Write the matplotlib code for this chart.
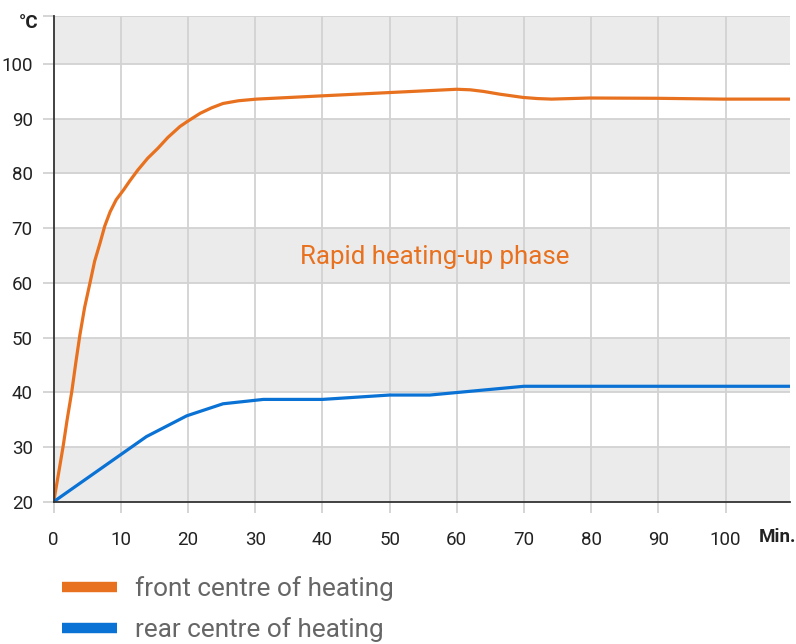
import matplotlib
matplotlib.use("Agg")
import matplotlib.pyplot as plt
from matplotlib.lines import Line2D

plt.rcParams['font.family'] = ['Roboto', 'DejaVu Sans']

# Data
front_x = [0, 0.7, 1.4, 2.0, 2.7, 3.3, 3.9, 4.6, 5.4, 6.1, 6.9, 7.6, 8.4, 9.3, 10.4, 11.3,
           12.5, 14.0, 15.5, 17.0, 18.8, 20.0, 21.8, 23.5, 25.2, 27.5, 30.2,
           40, 45, 50, 55, 60, 62, 64, 66.4, 69.9, 72, 74.1, 79.8, 89.7, 99.6, 109.6]
front_y = [20, 25.0, 30.1, 35.0, 40.2, 45.5, 50.5, 55.5, 60, 64.0, 67.3, 70.4, 73.0, 75.2, 77.0, 78.6,
           80.6, 82.8, 84.6, 86.6, 88.6, 89.6, 91.0, 92.0, 92.8, 93.3, 93.6,
           94.2, 94.5, 94.8, 95.1, 95.4, 95.3, 95.0, 94.5, 93.9, 93.7, 93.6, 93.8, 93.75, 93.6, 93.6]
rear_x = [0, 13.8, 19.8, 25.2, 31.2, 40, 50, 56, 70, 109.6]
rear_y = [20, 31.9, 35.7, 37.9, 38.7, 38.7, 39.5, 39.5, 41.1, 41.1]

x_ticks = [0, 10, 20, 30, 40, 50, 60, 70, 80, 90, 100]
y_ticks = [20, 30, 40, 50, 60, 70, 80, 90, 100]
legend_labels = ["front centre of heating", "rear centre of heating"]
annotation = "Rapid heating-up phase"

ORANGE = '#E8711F'
BLUE = '#0A72D4'
BAND = '#EBEBEB'
GRID = '#D2D2D2'
TXT = '#222222'

W, H = 796, 644
fig = plt.figure(figsize=(W / 100, H / 100), dpi=100)
x0, x1 = 53.7, 790
y0, y1 = 501.7, 15.7
ax = fig.add_axes([x0 / W, 1 - y0 / H, (x1 - x0) / W, (y0 - y1) / H])

ymax = 20 + (y0 - y1) / 5.47
xmax = 109.6
ax.set_xlim(0, xmax)
ax.set_ylim(20, ymax)

for b in [20, 40, 60, 80, 100]:
    ax.axhspan(b, min(b + 10, ymax), color=BAND, lw=0, zorder=0)

for yt in y_ticks[1:] + [ymax]:
    ax.axhline(yt, color=GRID, lw=1.3, zorder=1)
for xt in x_ticks[1:]:
    ax.axvline(xt, color=GRID, lw=1.3, zorder=1)

ax.plot(front_x, front_y, color=ORANGE, lw=2.3, zorder=3, solid_capstyle='round',
        solid_joinstyle='round')
ax.plot(rear_x, rear_y, color=BLUE, lw=2.3, zorder=3, solid_capstyle='round',
        solid_joinstyle='round')

ax.text(56.7, 64.7, annotation, color=ORANGE, fontsize=18.6, ha='center', va='center')

for s in ['top', 'right']:
    ax.spines[s].set_visible(False)
for s in ['left', 'bottom']:
    ax.spines[s].set_color('#333333')
    ax.spines[s].set_linewidth(1.3)
    ax.spines[s].set_zorder(4)

ax.set_xticks(x_ticks)
ax.set_xticklabels([str(v) for v in x_ticks])
ax.set_yticks(y_ticks + [ymax])
ax.set_yticklabels([str(v) for v in y_ticks] + [''])
ax.tick_params(axis='x', length=8, width=1.3, color=GRID, labelsize=13.5, labelcolor=TXT, pad=13)
ax.tick_params(axis='y', length=8, width=1.3, color=GRID, labelsize=13.5, labelcolor=TXT, pad=7)

fig.text(777 / W, 1 - 537 / H, "Min.", fontsize=13.5, fontweight='bold', color=TXT,
         ha='center', va='center')
fig.text(29 / W, 1 - 23 / H, "°C", fontsize=13.5, fontweight='bold', color=TXT,
         ha='center', va='center')

handles = [Line2D([0], [0], color=ORANGE, lw=7.5, solid_capstyle='butt'),
           Line2D([0], [0], color=BLUE, lw=7.5, solid_capstyle='butt')]
fig.legend(handles, legend_labels, loc='upper left', bbox_to_anchor=(62 / W, 1 - 576 / H),
           frameon=False, fontsize=18.8, labelcolor='#666666', handlelength=2.1,
           handletextpad=0.7, labelspacing=0.62, borderpad=0, borderaxespad=0)

fig.savefig("out.png", dpi=100)
